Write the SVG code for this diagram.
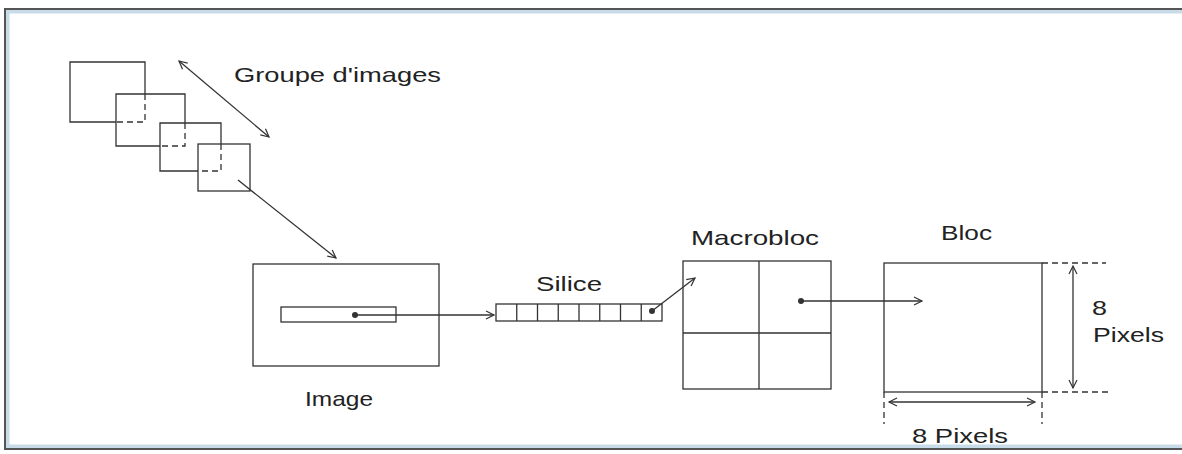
<svg xmlns="http://www.w3.org/2000/svg" width="1182" height="454" viewBox="0 0 1182 454">
<defs>
<marker id="ah" markerWidth="12" markerHeight="12" refX="10" refY="6" orient="auto" markerUnits="userSpaceOnUse">
<polyline points="2,2 10,6 2,10" fill="none" stroke="#333" stroke-width="1.2"/>
</marker>
<marker id="ahs" markerWidth="12" markerHeight="12" refX="2" refY="6" orient="auto" markerUnits="userSpaceOnUse">
<polyline points="10,2 2,6 10,10" fill="none" stroke="#333" stroke-width="1.2"/>
</marker>
</defs>
<style>
.box{fill:none;stroke:#333;stroke-width:1.3}
.dash{fill:none;stroke:#333;stroke-width:1.3;stroke-dasharray:6,4}
.ln{fill:none;stroke:#333;stroke-width:1.3}
.lbl{font-family:"Liberation Sans",Arial,sans-serif;font-size:21px;fill:#222}
.dot{fill:#333}
</style>
<rect x="0" y="0" width="1182" height="454" fill="#ffffff"/>
<g id="frame">
<rect x="7" y="11" width="1180" height="436" fill="none" stroke="#c8dbe8" stroke-width="5"/>
<rect x="5" y="9" width="1185" height="440" fill="none" stroke="#555" stroke-width="2"/>
</g>
<g id="groupe">
<path class="box" d="M145,94 V62 H70 V122 H116"/>
<path class="dash" d="M145,94 V122 H116"/>
<path class="box" d="M185,123 V94 H116 V146 H160"/>
<path class="dash" d="M185,123 V146 H160"/>
<path class="box" d="M221,144 V123 H160 V171 H198"/>
<path class="dash" d="M221,144 V171 H198"/>
<rect class="box" x="198" y="144" width="52" height="47"/>
<text class="lbl" x="234" y="82" textLength="207" lengthAdjust="spacingAndGlyphs">Groupe d'images</text>
</g>
<g id="image">
<rect class="box" x="253" y="264" width="186" height="102"/>
<rect class="box" x="281" y="307" width="115" height="15"/>
<circle class="dot" cx="355" cy="315" r="3"/>
<text class="lbl" x="305" y="406" textLength="68" lengthAdjust="spacingAndGlyphs">Image</text>
</g>
<g id="silice">
<rect class="box" x="496" y="304" width="166" height="17"/>
<path class="ln" d="M516.75,304V321M537.5,304V321M558.25,304V321M579,304V321M599.75,304V321M620.5,304V321M641.25,304V321"/>
<circle class="dot" cx="652" cy="311" r="3"/>
<text class="lbl" x="536" y="291" textLength="66" lengthAdjust="spacingAndGlyphs">Silice</text>
</g>
<g id="macrobloc">
<rect class="box" x="683" y="261" width="148" height="128"/>
<path class="ln" d="M759,261V389M683,333H831"/>
<circle class="dot" cx="801" cy="301" r="3"/>
<text class="lbl" x="691" y="245" textLength="128" lengthAdjust="spacingAndGlyphs">Macrobloc</text>
</g>
<g id="bloc">
<rect class="box" x="884" y="263" width="158" height="129"/>
<path class="dash" d="M1042,263H1106M1042,392H1112M884,392V424M1042,392V424"/>
<text class="lbl" x="941" y="240" textLength="51" lengthAdjust="spacingAndGlyphs">Bloc</text>
<text class="lbl" x="1092" y="315" textLength="15" lengthAdjust="spacingAndGlyphs">8</text>
<text class="lbl" x="1093" y="342" textLength="71" lengthAdjust="spacingAndGlyphs">Pixels</text>
<text class="lbl" x="912" y="443" textLength="96" lengthAdjust="spacingAndGlyphs">8 Pixels</text>
</g>
<g id="connectors">
<line class="ln" x1="179" y1="61" x2="269" y2="137" marker-start="url(#ahs)" marker-end="url(#ah)"/>
<line class="ln" x1="238" y1="180" x2="336" y2="258" marker-end="url(#ah)"/>
<line class="ln" x1="355" y1="315" x2="494" y2="315" marker-end="url(#ah)"/>
<line class="ln" x1="652" y1="311" x2="695" y2="278" marker-end="url(#ah)"/>
<line class="ln" x1="801" y1="301" x2="922" y2="301" marker-end="url(#ah)"/>
<line class="ln" x1="1073" y1="266" x2="1073" y2="388" marker-start="url(#ahs)" marker-end="url(#ah)"/>
<line class="ln" x1="889" y1="402" x2="1035" y2="402" marker-start="url(#ahs)" marker-end="url(#ah)"/>
</g>
</svg>
